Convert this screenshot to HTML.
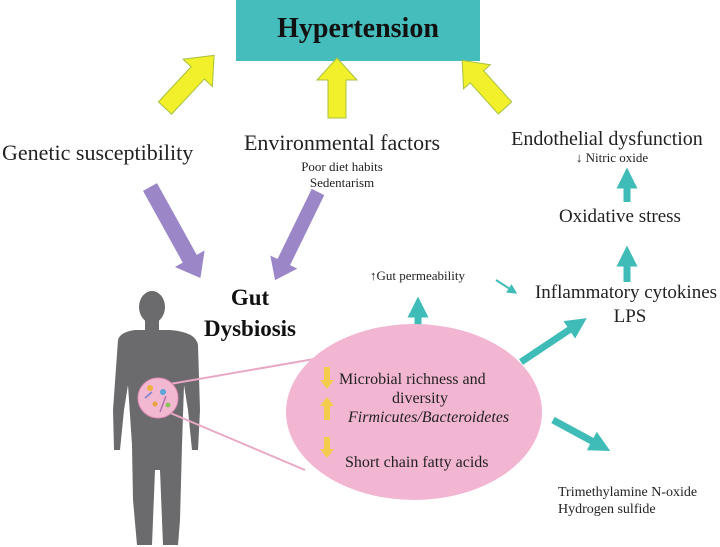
<!DOCTYPE html>
<html><head><meta charset="utf-8"><style>
body{margin:0;background:#fff;}
svg{display:block;font-family:"Liberation Serif",serif;}
</style></head><body>
<svg width="720" height="547" viewBox="0 0 720 547" xmlns="http://www.w3.org/2000/svg">
<defs>
<marker id="tb" viewBox="0 0 10 10" refX="5" refY="5" markerWidth="3" markerHeight="3" orient="auto"><path d="M0,0L10,5L0,10z" fill="#3fbcb8"/></marker>
<marker id="ts" viewBox="0 0 10 10" refX="5" refY="5" markerWidth="5" markerHeight="5" orient="auto"><path d="M0,0L10,5L0,10z" fill="#3fbcb8"/></marker>
</defs>
<rect x="236" y="0" width="244" height="61" fill="#45bdbd"/>
<text x="358" y="37" text-anchor="middle" font-size="28" font-weight="bold" fill="#111">Hypertension</text>

<!-- yellow arrows -->
<g fill="#f2f02a" stroke="#a8c040" stroke-width="1">
<polygon points="0,-9 48,-9 48,-20 72,0 48,20 48,9 0,9" transform="translate(165,108) rotate(-47)"/>
<polygon points="0,-9 38,-9 38,-20 60,0 38,20 38,9 0,9" transform="translate(337,118) rotate(-90)"/>
<polygon points="0,-9 42,-9 42,-18 64,0 42,18 42,9 0,9" transform="translate(505,108) rotate(-132)"/>
</g>

<!-- purple arrows -->
<g fill="#9b86c8">
<polygon points="0,-8 82,-8 82,-17 104,0 82,17 82,8 0,8" transform="translate(150,187) rotate(61)"/>
<polygon points="0,-7 78,-7 78,-15 98,0 78,15 78,7 0,7" transform="translate(318,192) rotate(116)"/>
</g>

<text x="2" y="160" font-size="22" fill="#222">Genetic susceptibility</text>
<text x="342" y="150" text-anchor="middle" font-size="22" fill="#222">Environmental factors</text>
<text x="342" y="171" text-anchor="middle" font-size="13" fill="#222">Poor diet habits</text>
<text x="342" y="187" text-anchor="middle" font-size="13" fill="#222">Sedentarism</text>
<text x="607" y="145" text-anchor="middle" font-size="20" fill="#222">Endothelial dysfunction</text>
<text x="612" y="162" text-anchor="middle" font-size="13" fill="#222">↓ Nitric oxide</text>
<text x="620" y="222" text-anchor="middle" font-size="19" fill="#222">Oxidative stress</text>
<text x="626" y="298" text-anchor="middle" font-size="19" fill="#222">Inflammatory cytokines</text>
<text x="630" y="322" text-anchor="middle" font-size="19" fill="#222">LPS</text>
<text x="370" y="280" font-size="13" fill="#222">↑Gut permeability</text>
<text x="250" y="305" text-anchor="middle" font-size="23" font-weight="bold" fill="#111">Gut</text>
<text x="250" y="336" text-anchor="middle" font-size="23" font-weight="bold" fill="#111">Dysbiosis</text>
<text x="558" y="496" font-size="14" fill="#222">Trimethylamine N-oxide</text>
<text x="558" y="513" font-size="14" fill="#222">Hydrogen sulfide</text>

<!-- teal arrows -->
<g stroke="#3fbcb8" stroke-width="7">
<line x1="627" y1="202" x2="627" y2="178" marker-end="url(#tb)"/>
<line x1="627" y1="282" x2="627" y2="256" marker-end="url(#tb)"/>
<line x1="418" y1="332" x2="418" y2="307" marker-end="url(#tb)"/>
<line x1="521" y1="362" x2="578" y2="324" marker-end="url(#tb)"/>
<line x1="553" y1="420" x2="601" y2="446" marker-end="url(#tb)"/>
</g>
<line x1="496" y1="280" x2="513" y2="291" stroke="#3fbcb8" stroke-width="2" marker-end="url(#ts)"/>

<!-- body -->
<g fill="#6b6a6c">
<ellipse cx="152" cy="307" rx="13" ry="16"/>
<rect x="145" y="318" width="14" height="14"/>
<path d="M118,340 Q120,332 135,330 L170,330 Q196,332 198,345 L200,410 L198,450 L192,450 L188,410 L184,385 L182,445 L180,520 L178,545 L163,545 L160,470 L155,470 L152,545 L137,545 L133,500 L132,445 L128,385 L124,410 L120,450 L114,450 L113,410 Z"/>
</g>
<line x1="170" y1="384" x2="320" y2="358" stroke="#e9a9c6" stroke-width="2"/>
<line x1="168" y1="412" x2="305" y2="470" stroke="#e9a9c6" stroke-width="2"/>
<circle cx="158" cy="398" r="20" fill="#f2b8d2" stroke="#e58fba"/>
<g>
<circle cx="150" cy="388" r="3" fill="#f0b040"/><circle cx="163" cy="392" r="3" fill="#59a4d9"/>
<circle cx="155" cy="404" r="2.5" fill="#e8a33a"/><circle cx="168" cy="405" r="2.5" fill="#8fc060"/>
<line x1="145" y1="398" x2="152" y2="392" stroke="#8080d0" stroke-width="1.5"/>
<line x1="160" y1="412" x2="166" y2="396" stroke="#b070b0" stroke-width="1.5"/>
</g>

<ellipse cx="414" cy="412" rx="128" ry="88" fill="#f2b5d2"/>
<g fill="#f4cc4c">
<polygon points="324,367 330,367 330,380 334,380 327,389 320,380 324,380"/>
<polygon points="324,420 330,420 330,406 334,406 327,397 320,406 324,406"/>
<polygon points="324,437 330,437 330,449 334,449 327,458 320,449 324,449"/>
</g>
<text x="339" y="384" font-size="16" fill="#222">Microbial richness and</text>
<text x="420" y="403" text-anchor="middle" font-size="16" fill="#222">diversity</text>
<text x="348" y="422" font-size="16" font-style="italic" fill="#222">Firmicutes/Bacteroidetes</text>
<text x="345" y="467" font-size="16" fill="#222">Short chain fatty acids</text>
</svg>
</body></html>
